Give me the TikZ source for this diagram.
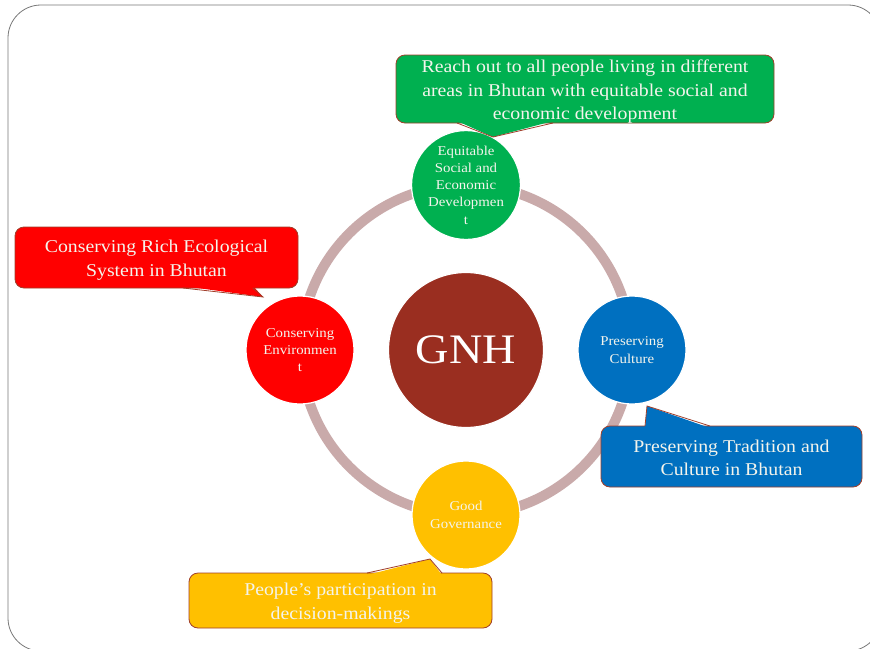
\documentclass[tikz,border=0pt]{standalone}
\usepackage{fontspec}
\setmainfont[FakeStretch=1.1]{Liberation Serif}
\definecolor{gnhc}{RGB}{154,46,32}
\definecolor{grn}{RGB}{0,176,80}
\definecolor{redc}{RGB}{255,0,0}
\definecolor{bluec}{RGB}{0,112,192}
\definecolor{goldc}{RGB}{255,192,0}
\definecolor{ringc}{RGB}{201,170,170}
\definecolor{bordc}{RGB}{160,62,42}
\definecolor{framec}{RGB}{120,120,120}
\definecolor{txt}{RGB}{244,244,236}
\begin{document}
\begin{tikzpicture}[x=1pt,y=-1pt,
  bub/.style={draw=bordc, line width=0.8pt, rounded corners=9pt, inner sep=0pt},
  btxt/.style={inner sep=0pt, text=txt, align=center, font=\fontsize{18}{23.5}\selectfont},
  dot/.style={circle, draw=white, line width=1.2pt, minimum size=108pt, inner sep=0pt, text=txt, align=center, font=\fontsize{13.5}{17.3}\selectfont},
  ptr/.style={draw=bordc, line width=0.8pt, line join=miter}
]
\useasboundingbox (0,0) rectangle (870,648);
\draw[framec, line width=0.8pt, rounded corners=33pt] (8,5) rectangle (881,651);

% ring
\coordinate (c) at (466,350);
\draw[ringc, line width=10pt] (c) circle[radius=165pt];

% center
\node[circle, fill=gnhc, draw=white, line width=1.2pt, minimum size=155pt, inner sep=0pt, text=white, font=\fontsize{42}{42}\selectfont] (gnh) at (c) {GNH};

% satellites
\node[dot, fill=grn] (top) at (466,185) {Equitable\\Social and\\Economic\\Developmen\\t};
\node[dot, fill=bluec] (right) at (632,350) {Preserving\\Culture};
\node[dot, fill=goldc] (bottom) at (466,515) {Good\\Governance};
\node[dot, fill=redc] (left) at (300,350) {Conserving\\Environmen\\t};

% callouts
\node[bub, fill=grn, minimum width=378pt, minimum height=68pt] (bg) at (585,89) {};
\fill[grn] (457,121) -- (493,137) -- (553,121) -- cycle;
\draw[ptr] (457,123) -- (493,137) -- (553,123);
\node[btxt] (bgt) at ([yshift=-3pt]bg.center) {Reach out to all people living in different\\areas in Bhutan with equitable social and\\economic development};

\node[bub, fill=redc, minimum width=283pt, minimum height=61pt] (br) at (156.5,257.5) {};
\fill[redc] (183,286) -- (263,297) -- (253,286) -- cycle;
\draw[ptr] (183,288) -- (263,297) -- (253,288);
\node[btxt] (brt) at ([yshift=-2.5pt]br.center) {Conserving Rich Ecological\\System in Bhutan};

\node[bub, fill=bluec, minimum width=261pt, minimum height=61pt] (bb) at (731.5,456.5) {};
\fill[bluec] (645,428) -- (647,406) -- (710,428) -- cycle;
\draw[ptr] (645,426) -- (647,406) -- (710,426);
\node[btxt] (bbt) at ([yshift=-1.5pt]bb.center) {Preserving Tradition and\\Culture in Bhutan};

\node[bub, fill=goldc, minimum width=303pt, minimum height=55pt] (by) at (340.5,600.5) {};
\fill[goldc] (367,575) -- (430,559) -- (442,575) -- cycle;
\draw[ptr] (367,573) -- (430,559) -- (442,573);
\node[btxt] (byt) at ([yshift=-2.5pt]by.center) {People’s participation in\\decision-makings};
\end{tikzpicture}
\end{document}
